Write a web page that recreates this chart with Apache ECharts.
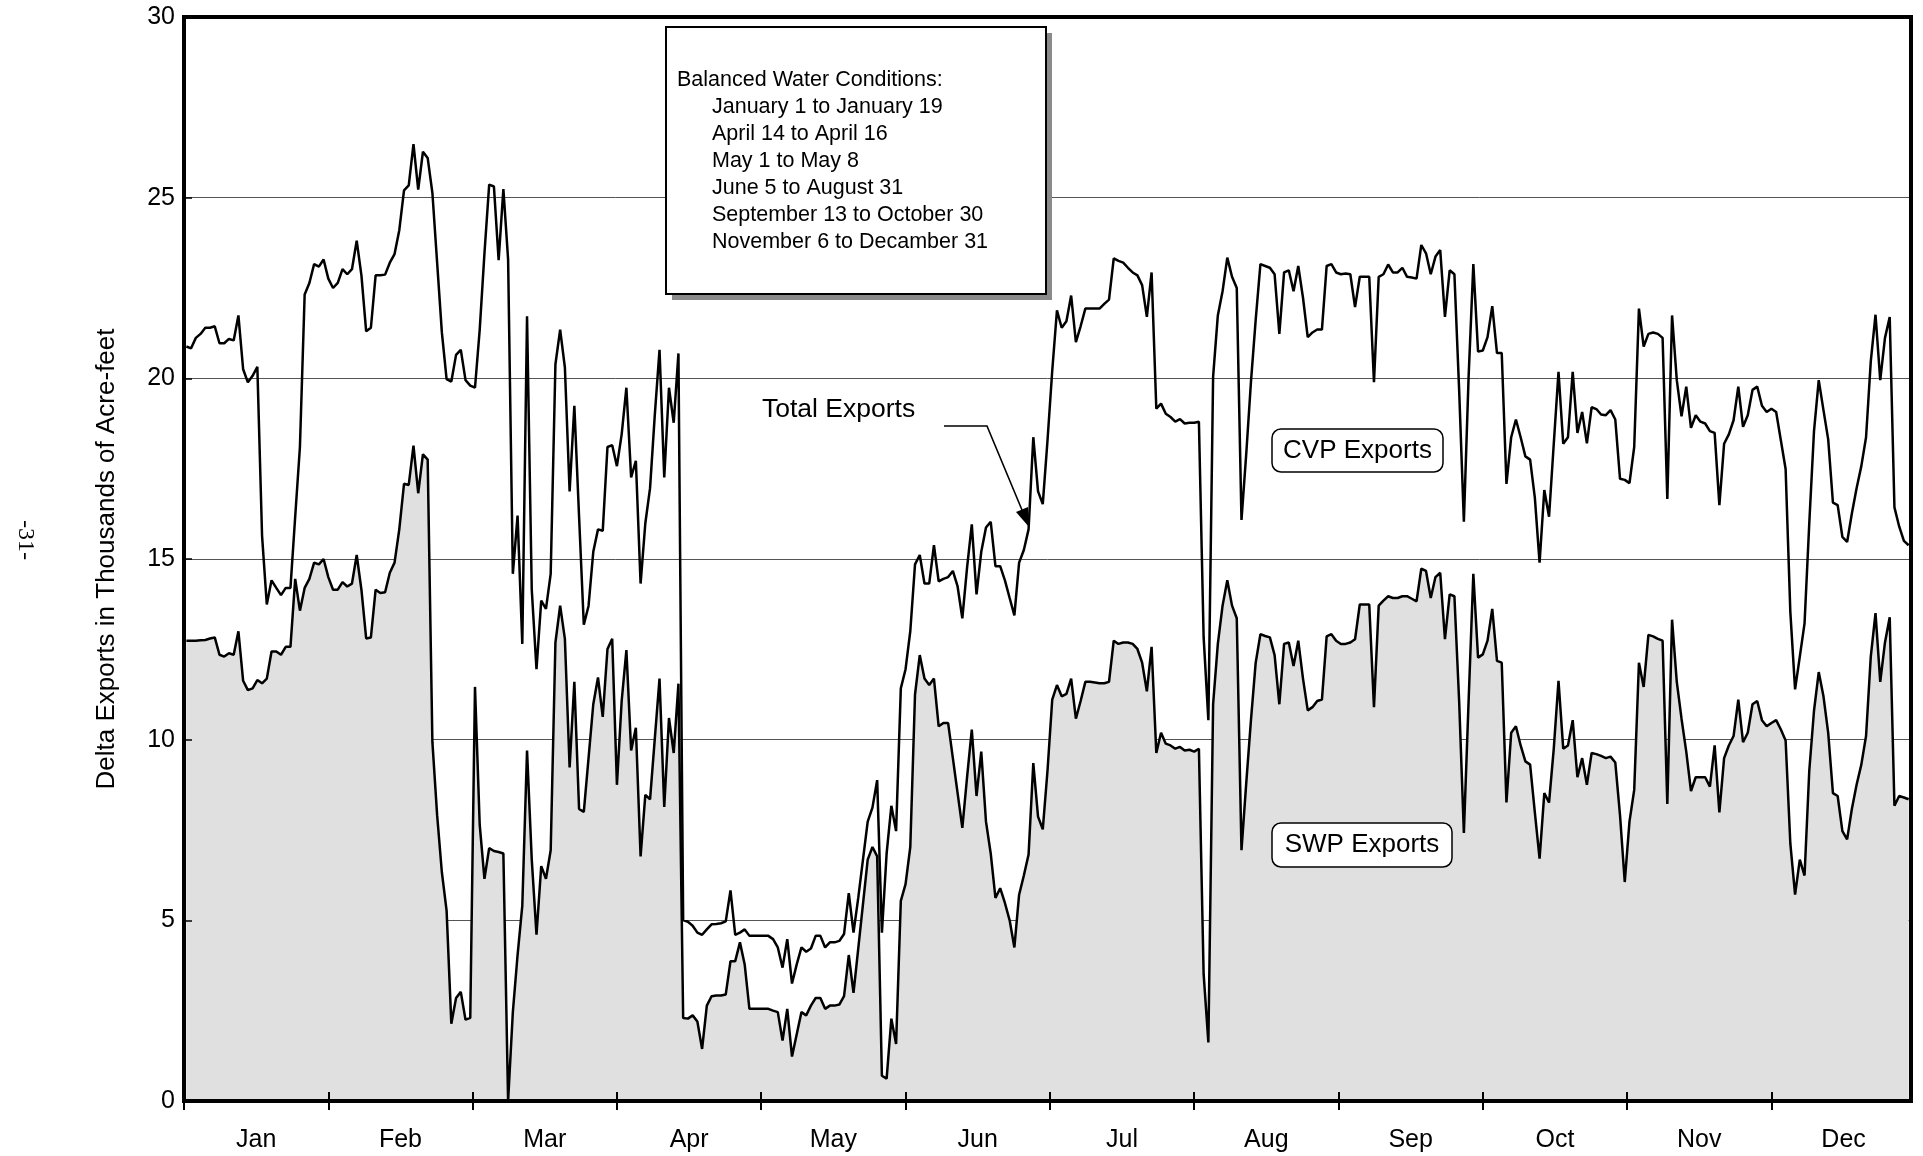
<!DOCTYPE html>
<html>
<head>
<meta charset="utf-8">
<title>Delta Exports</title>
<script src="https://cdn.jsdelivr.net/npm/echarts@6/dist/echarts.min.js"></script>
<style>
  html, body { margin: 0; padding: 0; background: #fff; }
  #chart { width: 1923px; height: 1156px; }
</style>
</head>
<body>
<div id="chart"></div>
<script>
// month names and where they sit on the day axis (0 .. 365)
const months = ['Jan', 'Feb', 'Mar', 'Apr', 'May', 'Jun', 'Jul', 'Aug', 'Sep', 'Oct', 'Nov', 'Dec'];
const monthLength = 30.5;

// daily total exports, thousands of acre-feet (Jan 1 .. Dec 31)
const totalExports = [
  20.88, 20.83, 21.12, 21.23, 21.4, 21.4, 21.44, 20.97, 20.97, 21.09, 21.05, 21.74, 20.25, 19.89, 20.07, 20.32,
  15.64, 13.74, 14.41, 14.2, 14.0, 14.2, 14.2, 16.17, 18.1, 22.32, 22.64, 23.16, 23.09, 23.29, 22.76, 22.5,
  22.64, 23.02, 22.88, 23.02, 23.81,
  22.85, 21.3, 21.4, 22.85, 22.85, 22.87, 23.2, 23.44, 24.1, 25.2, 25.34, 26.48, 25.22, 26.27, 26.1,
  25.13, 23.2, 21.27, 19.98, 19.91, 20.65, 20.79, 19.95, 19.8, 19.74, 21.35, 23.46, 25.36, 25.31, 23.27, 25.24, 23.29,
  14.59, 16.2, 12.65, 21.72, 14.15, 11.95,
  13.85, 13.62, 14.59, 20.39, 21.35, 20.3, 16.87, 19.24, 16.17, 13.18, 13.7, 15.2, 15.82, 15.78, 18.1, 18.15,
  17.57, 18.45, 19.74, 17.26, 17.72, 14.32, 15.99, 16.96, 18.98, 20.79, 17.26, 19.74, 18.77, 20.69, 5.01, 4.96,
  4.85, 4.66, 4.6, 4.75,
  4.89, 4.9, 4.92, 4.97, 5.83, 4.6, 4.66, 4.75, 4.57, 4.57, 4.57, 4.57, 4.57, 4.48, 4.25, 3.69, 4.48, 3.25,
  3.78, 4.25, 4.13, 4.22, 4.57, 4.57, 4.25, 4.39, 4.39, 4.43, 4.62, 5.75, 4.66, 5.62, 6.68, 7.73, 8.12, 8.88, 4.66,
  6.85, 8.17, 7.47, 11.42, 11.95, 13.0, 14.85, 15.11, 14.32, 14.32, 15.38, 14.38, 14.45, 14.5, 14.67, 14.24,
  13.36, 14.76, 15.96, 14.02, 15.2, 15.87, 16.03, 14.8, 14.8, 14.41, 13.92, 13.44, 14.9, 15.25, 15.82, 18.37,
  16.87, 16.52, 18.28, 20.21, 21.88,
  21.4, 21.58, 22.29, 21.0, 21.44, 21.93, 21.93, 21.93, 21.93, 22.06, 22.18, 23.32, 23.25, 23.2, 23.06, 22.93,
  22.85, 22.58, 21.7, 22.93, 19.16, 19.3, 19.02, 18.93, 18.8, 18.87, 18.75, 18.77, 18.77, 18.8, 12.83, 10.54,
  20.04, 21.74, 22.41, 23.34, 22.81,
  22.5, 16.08, 17.9, 19.9, 21.62, 23.16, 23.11, 23.06, 22.88, 21.23, 22.93, 22.99, 22.41, 23.11, 22.23, 21.14,
  21.27, 21.35, 21.35, 23.11, 23.16, 22.93, 22.88, 22.9, 22.88, 21.97, 22.81, 22.81, 22.81, 19.89, 22.81, 22.88,
  23.15, 22.93, 22.93, 23.06,
  22.81, 22.79, 22.76, 23.69, 23.46, 22.88, 23.37, 23.55, 21.7, 22.99, 22.88, 19.68, 16.03, 20.04, 23.16, 20.74,
  20.77, 21.14, 22.0, 20.7, 20.7, 17.08, 18.37, 18.86, 18.37, 17.84, 17.75, 16.7, 14.9, 16.91, 16.17, 18.19,
  20.18, 18.19, 18.37, 20.18, 18.49, 19.07,
  18.2, 19.2, 19.15, 19.0, 18.98, 19.12, 18.86, 17.22, 17.19, 17.1, 18.1, 21.93, 20.88, 21.23, 21.27, 21.23,
  21.12, 16.66, 21.74, 19.95, 18.95, 19.77, 18.63, 18.98, 18.8, 18.75, 18.54, 18.49, 16.49, 18.19, 18.45, 18.84,
  19.77, 18.66, 18.98, 19.68, 19.77,
  19.24, 19.07, 19.16, 19.07, 18.28, 17.49, 13.53, 11.39, 12.3, 13.22, 15.99, 18.54, 19.95, 19.12, 18.31, 16.56,
  16.49, 15.61, 15.47, 16.26, 16.96, 17.57, 18.37, 20.47, 21.76, 19.95, 21.12, 21.7, 16.43, 15.9, 15.5, 15.38
];

// daily SWP exports (the shaded part); CVP is the gap up to the total
const swpExports = [
  12.74, 12.74, 12.74, 12.75, 12.76, 12.8, 12.83, 12.35, 12.3, 12.39, 12.35, 13.0, 11.63, 11.37, 11.42, 11.65,
  11.56, 11.69, 12.44, 12.44, 12.35, 12.57, 12.57, 14.45, 13.57, 14.2, 14.45, 14.9, 14.85, 15.0, 14.5, 14.15,
  14.15, 14.36, 14.24, 14.32, 15.11,
  14.15, 12.8, 12.83, 14.15, 14.06, 14.08, 14.62, 14.9, 15.82, 17.08, 17.05, 18.14, 16.82, 17.9, 17.75,
  9.93, 7.91, 6.33, 5.27, 2.14, 2.85, 3.02, 2.25, 2.3, 11.46, 7.64, 6.15, 7.0, 6.92, 6.89, 6.85, 0,
  2.46, 4.04, 5.41, 9.7, 6.68, 4.6,
  6.5, 6.15, 6.94, 12.69, 13.71, 12.79, 9.23, 11.6, 8.08, 8.0, 9.49, 10.98, 11.72, 10.63, 12.51, 12.79,
  8.75, 11.07, 12.48, 9.7, 10.33, 6.77, 8.47, 8.35, 10.02, 11.69, 8.14, 10.6, 9.63, 11.55, 2.3, 2.28,
  2.37, 2.2, 1.44, 2.64,
  2.9, 2.92, 2.92, 2.95, 3.87, 3.87, 4.39, 3.78, 2.55, 2.55, 2.55, 2.55, 2.55, 2.5, 2.46, 1.67, 2.55, 1.23,
  1.85, 2.46, 2.37, 2.64, 2.85, 2.85, 2.55, 2.64, 2.64, 2.67, 2.9, 4.04, 2.99, 4.22, 5.45, 6.68, 7.03, 6.77, 0.7,
  0.62, 2.28, 1.58, 5.54, 6.0, 7.03, 11.25, 12.34, 11.69, 11.51, 11.69, 10.37, 10.46, 10.46, 9.49, 8.52,
  7.56, 8.96, 10.28, 8.44, 9.67, 7.73, 6.85, 5.62, 5.89, 5.48, 5.0, 4.25, 5.71, 6.24, 6.82, 9.35,
  7.87, 7.52, 9.14, 11.11, 11.51,
  11.2, 11.27, 11.69, 10.58, 11.07, 11.6, 11.6, 11.58, 11.56, 11.56, 11.6, 12.74, 12.65, 12.69, 12.69, 12.65,
  12.51, 12.13, 11.34, 12.57, 9.63, 10.19, 9.89, 9.84, 9.75, 9.8, 9.7, 9.72, 9.67, 9.75, 3.51, 1.62,
  10.98, 12.65, 13.71, 14.41, 13.71,
  13.36, 6.94, 8.79, 10.54, 12.13, 12.92, 12.87, 12.83, 12.34, 10.98, 12.65, 12.69, 12.04, 12.74, 11.69, 10.81,
  10.9, 11.07, 11.11, 12.86, 12.92, 12.74, 12.65, 12.65, 12.69, 12.78, 13.74, 13.74, 13.74, 10.9, 13.71, 13.85,
  13.97, 13.92, 13.92, 13.97,
  13.97, 13.9, 13.83, 14.73, 14.67, 13.92, 14.5, 14.62, 12.78, 14.02, 13.97, 11.07, 7.42, 11.07, 14.59, 12.27,
  12.36, 12.74, 13.62, 12.18, 12.13, 8.26, 10.19, 10.37, 9.84, 9.4, 9.31, 7.99, 6.71, 8.52, 8.26, 9.75,
  11.63, 9.75, 9.84, 10.54, 8.96, 9.49,
  8.75, 9.63, 9.6, 9.55, 9.49, 9.53, 9.37, 7.91, 6.06, 7.73, 8.61, 12.13, 11.46, 12.9, 12.86, 12.79,
  12.74, 8.22, 13.32, 11.6, 10.58, 9.67, 8.58, 8.96, 8.96, 8.96, 8.7, 9.84, 7.99, 9.49, 9.84, 10.1,
  11.11, 9.93, 10.19, 10.98, 11.07,
  10.54, 10.37, 10.46, 10.54, 10.28, 9.98, 7.12, 5.71, 6.68, 6.24, 9.14, 10.8, 11.87, 11.2, 10.19, 8.52,
  8.44, 7.47, 7.24, 8.08, 8.75, 9.31, 10.1, 12.3, 13.5, 11.6, 12.69, 13.39, 8.17, 8.44, 8.4, 8.35
];

const conditions = [
  'January 1 to January 19',
  'April 14 to April 16',
  'May 1 to May 8',
  'June 5 to August 31',
  'September 13 to October 30',
  'November 6 to Decamber 31'
];

// each day is drawn in the middle of its slot
const toPoints = (arr) => arr.map((v, i) => [i + 0.5, v]);
const monthStarts = months.map((m, i) => i * monthLength);
const monthMiddles = months.map((m, i) => i * monthLength + monthLength / 2);

const font = 'Liberation Sans, Arial, sans-serif';
const chart = echarts.init(document.getElementById('chart'), null, { renderer: 'canvas' });

const grid = { left: 184, top: 17, width: 1727, height: 1084 };

const graphic = [
  // heavy frame round the plot
  {
    type: 'rect', z: 100, silent: true,
    shape: { x: grid.left, y: grid.top, width: grid.width, height: grid.height },
    style: { fill: null, stroke: '#000', lineWidth: 4 }
  },
  // note box with drop shadow
  { type: 'rect', z: 50, shape: { x: 672, y: 33, width: 380, height: 267 }, style: { fill: '#8a8a8a' } },
  {
    type: 'rect', z: 51,
    shape: { x: 666, y: 27, width: 380, height: 267 },
    style: { fill: '#fff', stroke: '#000', lineWidth: 2 }
  },
  {
    type: 'text', z: 52, x: 677, y: 80,
    style: { text: 'Balanced Water Conditions:', fontSize: 21.5, fontFamily: font, fill: '#000', verticalAlign: 'middle' }
  },
  ...conditions.map((t, i) => ({
    type: 'text', z: 52, x: 712, y: 107 + i * 27,
    style: { text: t, fontSize: 21.5, fontFamily: font, fill: '#000', verticalAlign: 'middle' }
  })),
  // Total Exports pointer
  {
    type: 'text', z: 52, x: 762, y: 410,
    style: { text: 'Total Exports', fontSize: 26.5, fontFamily: font, fill: '#000', verticalAlign: 'middle' }
  },
  {
    type: 'polyline', z: 52,
    shape: { points: [[944, 426], [987, 426], [1022, 510]] },
    style: { stroke: '#000', lineWidth: 1.6, fill: null }
  },
  {
    type: 'polygon', z: 52,
    shape: { points: [[1029, 527], [1016, 512], [1028, 507]] },
    style: { fill: '#000' }
  },
  // CVP / SWP labels
  {
    type: 'rect', z: 52,
    shape: { x: 1272, y: 429, width: 171, height: 43, r: 9 },
    style: { fill: '#fff', stroke: '#000', lineWidth: 1.5 }
  },
  {
    type: 'text', z: 53, x: 1357.5, y: 451,
    style: { text: 'CVP Exports', fontSize: 26, fontFamily: font, fill: '#000', align: 'center', verticalAlign: 'middle' }
  },
  {
    type: 'rect', z: 52,
    shape: { x: 1272, y: 823, width: 180, height: 44, r: 9 },
    style: { fill: '#fff', stroke: '#000', lineWidth: 1.5 }
  },
  {
    type: 'text', z: 53, x: 1362, y: 845,
    style: { text: 'SWP Exports', fontSize: 26, fontFamily: font, fill: '#000', align: 'center', verticalAlign: 'middle' }
  },
  // page number in the margin
  {
    type: 'text', z: 53, x: 25, y: 540, rotation: -Math.PI / 2,
    style: { text: '-31-', fontSize: 24, fontFamily: 'Liberation Serif, serif', fill: '#000', align: 'center', verticalAlign: 'middle' }
  }
];

const option = {
  animation: false,
  backgroundColor: '#fff',
  grid: grid,
  xAxis: [
    {
      type: 'value', min: 0, max: 365, position: 'bottom',
      axisLine: { show: false },
      splitLine: { show: false },
      axisTick: { show: true, length: 9, customValues: monthStarts, lineStyle: { color: '#000', width: 2 } },
      axisLabel: {
        show: true, customValues: monthMiddles, margin: 27,
        fontSize: 25, fontFamily: font, color: '#000',
        formatter: (v) => months[Math.round((v - monthLength / 2) / monthLength)]
      }
    },
    {
      // ticks that poke up into the plot
      type: 'value', min: 0, max: 365, position: 'bottom', z: 10,
      axisLine: { show: false },
      splitLine: { show: false },
      axisLabel: { show: false },
      axisTick: { show: true, inside: true, length: 9, customValues: monthStarts.slice(1), lineStyle: { color: '#000', width: 2 } }
    }
  ],
  yAxis: [
    {
      type: 'value', min: 0, max: 30, interval: 5, position: 'left',
      axisLine: { show: false },
      axisTick: { show: false },
      splitLine: { show: true, lineStyle: { color: '#555', width: 1 } },
      axisLabel: { fontSize: 25, fontFamily: font, color: '#000', margin: 9 },
      name: 'Delta Exports in Thousands of Acre-feet',
      nameLocation: 'middle', nameGap: 64,
      nameTextStyle: { fontSize: 26, fontFamily: font, color: '#000' }
    },
    {
      type: 'value', min: 0, max: 30, interval: 5, position: 'left', z: 10,
      axisLine: { show: false },
      splitLine: { show: false },
      axisLabel: { show: false },
      axisTick: { show: true, inside: true, length: 8, lineStyle: { color: '#000', width: 1.5 } }
    }
  ],
  series: [
    {
      name: 'SWP Exports', type: 'line', xAxisIndex: 0, yAxisIndex: 0,
      data: toPoints(swpExports),
      symbol: 'none', z: 2,
      lineStyle: { color: '#000', width: 2.5 },
      areaStyle: { color: '#e0e0e0', opacity: 1 }
    },
    {
      name: 'Total Exports', type: 'line', xAxisIndex: 0, yAxisIndex: 0,
      data: toPoints(totalExports),
      symbol: 'none', z: 3,
      lineStyle: { color: '#000', width: 2.5 }
    }
  ],
  graphic: graphic
};

chart.setOption(option);
</script>
</body>
</html>
